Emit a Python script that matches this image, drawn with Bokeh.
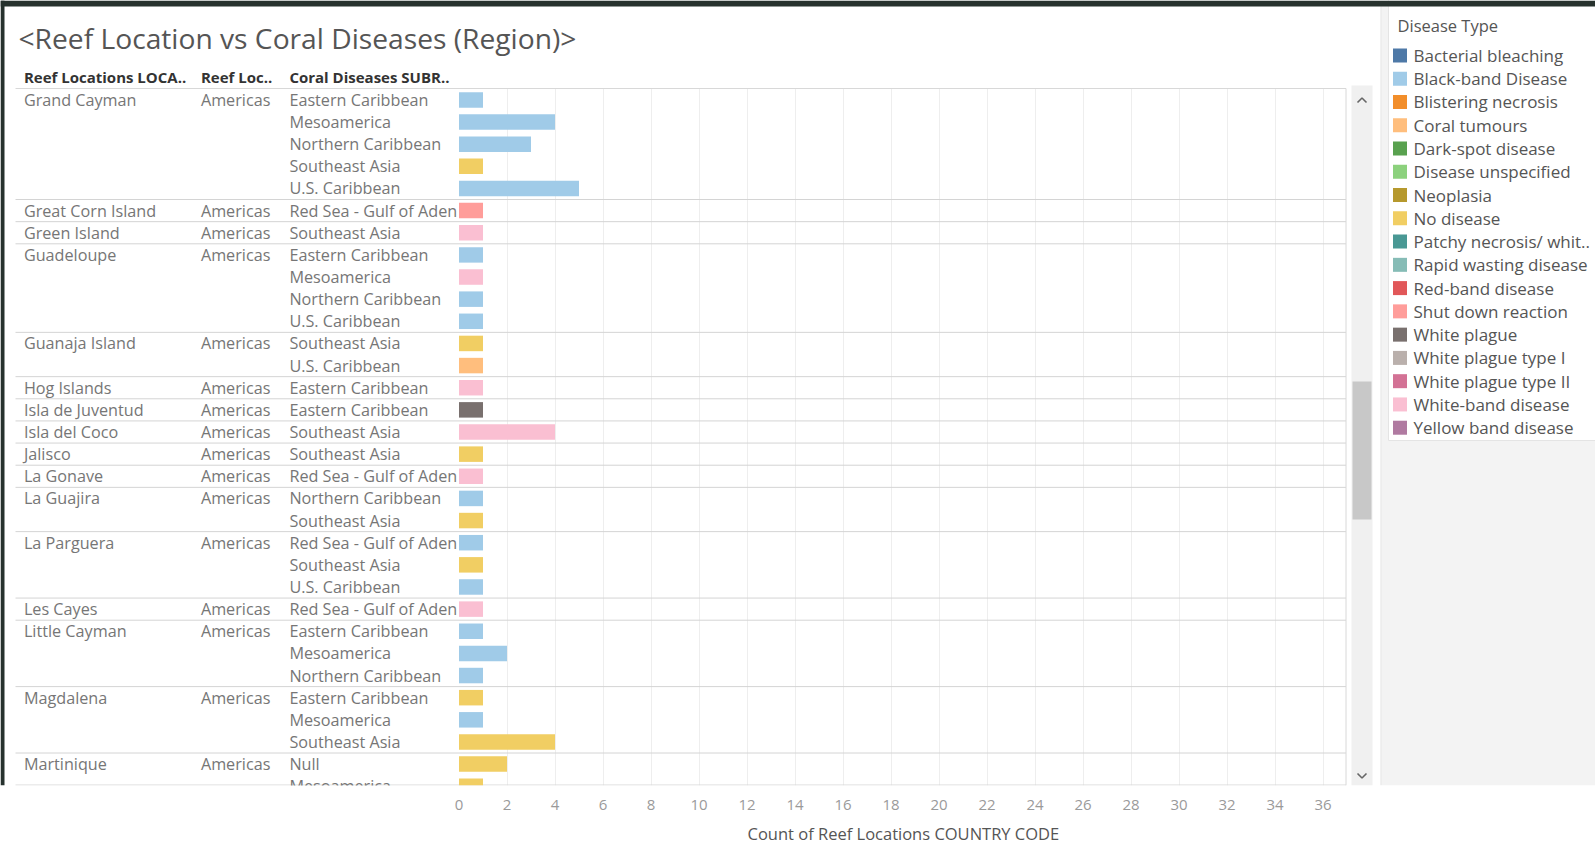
from bokeh.plotting import figure
from bokeh.models import Range1d, FixedTicker, Title, ColumnDataSource
from bokeh.transform import factor_cmap
from bokeh.core.properties import value
from bokeh.embed import file_html
from bokeh.resources import INLINE

# ---------------- data ----------------
TITLE = "<Reef Location vs Coral Diseases (Region)>"
HEADERS = ["Reef Locations LOCA..", "Reef Loc..", "Coral Diseases SUBR.."]
X_AXIS_LABEL = "Count of Reef Locations COUNTRY CODE"
LEGEND_TITLE = "Disease Type"

diseases = [
    "Bacterial bleaching", "Black-band Disease", "Blistering necrosis", "Coral tumours",
    "Dark-spot disease", "Disease unspecified", "Neoplasia", "No disease",
    "Patchy necrosis/ whit..", "Rapid wasting disease", "Red-band disease",
    "Shut down reaction", "White plague", "White plague type I", "White plague type II",
    "White-band disease", "Yellow band disease",
]
disease_colors = [
    "#4e79a7", "#a0cbe8", "#f28e2b", "#ffbe7d", "#59a14f", "#8cd17d", "#b6992d",
    "#f1ce63", "#499894", "#86bcb6", "#e15759", "#ff9d9a", "#79706e", "#bab0ac",
    "#d37295", "#fabfd2", "#b07aa1",
]

row_location = [
    "Grand Cayman", "Grand Cayman", "Grand Cayman", "Grand Cayman", "Grand Cayman",
    "Great Corn Island", "Green Island",
    "Guadeloupe", "Guadeloupe", "Guadeloupe", "Guadeloupe",
    "Guanaja Island", "Guanaja Island",
    "Hog Islands", "Isla de Juventud", "Isla del Coco", "Jalisco", "La Gonave",
    "La Guajira", "La Guajira",
    "La Parguera", "La Parguera", "La Parguera",
    "Les Cayes",
    "Little Cayman", "Little Cayman", "Little Cayman",
    "Magdalena", "Magdalena", "Magdalena",
    "Martinique", "Martinique",
]
row_region = ["Americas"] * len(row_location)
row_subregion = [
    "Eastern Caribbean", "Mesoamerica", "Northern Caribbean", "Southeast Asia", "U.S. Caribbean",
    "Red Sea - Gulf of Aden", "Southeast Asia",
    "Eastern Caribbean", "Mesoamerica", "Northern Caribbean", "U.S. Caribbean",
    "Southeast Asia", "U.S. Caribbean",
    "Eastern Caribbean", "Eastern Caribbean", "Southeast Asia", "Southeast Asia",
    "Red Sea - Gulf of Aden",
    "Northern Caribbean", "Southeast Asia",
    "Red Sea - Gulf of Aden", "Southeast Asia", "U.S. Caribbean",
    "Red Sea - Gulf of Aden",
    "Eastern Caribbean", "Mesoamerica", "Northern Caribbean",
    "Eastern Caribbean", "Mesoamerica", "Southeast Asia",
    "Null", "Mesoamerica",
]
row_disease = [
    "Black-band Disease", "Black-band Disease", "Black-band Disease", "No disease", "Black-band Disease",
    "Shut down reaction", "White-band disease",
    "Black-band Disease", "White-band disease", "Black-band Disease", "Black-band Disease",
    "No disease", "Coral tumours",
    "White-band disease", "White plague", "White-band disease", "No disease",
    "White-band disease",
    "Black-band Disease", "No disease",
    "Black-band Disease", "No disease", "Black-band Disease",
    "White-band disease",
    "Black-band Disease", "Black-band Disease", "Black-band Disease",
    "No disease", "Black-band Disease", "No disease",
    "No disease", "No disease",
]
row_count = [1, 4, 3, 1, 5, 1, 1, 1, 1, 1, 1, 1, 1, 1, 1, 4, 1, 1, 1, 1, 1, 1, 1, 1,
             1, 2, 1, 1, 1, 4, 2, 1]
x_ticks = list(range(0, 37, 2))

# ---------------- layout constants (pixels) ----------------
W, FH = 1595, 785
X0, PXU = 458.5, 24.0          # pixel of count 0, pixels per count
ROW0, PITCH = 99.4, 22.14      # pixel centre of first row, row pitch
PLOT_TOP, PLOT_RIGHT = 88, 1345.5
DARK = "#27322e"

n = len(row_location)
rows = list(range(n))
first = [i == 0 or row_location[i] != row_location[i - 1] for i in rows]

p = figure(
    frame_width=W, frame_height=FH,
    x_range=Range1d(-X0 / PXU, (W - X0) / PXU),
    y_range=Range1d(FH, 0),
    output_backend="svg", toolbar_location=None, tools="",
    y_axis_location=None, min_border=0, min_border_bottom=58,
    background_fill_color="white", border_fill_color="white",
)
p.outline_line_color = None
p.extra_x_ranges = {"px": Range1d(0, W)}
p.extra_y_ranges = {"row": Range1d((FH - ROW0) / PITCH, -ROW0 / PITCH)}

FONT = value("Open Sans")

# grid
p.ygrid.visible = False
p.xgrid.ticker = FixedTicker(ticks=x_ticks[1:])
p.xgrid.grid_line_color = "#eeeeee"

# white cover over title/header area, right panels, dark frame strips
p.quad(left=0, right=1380, top=0, bottom=PLOT_TOP, x_range_name="px",
       fill_color="white", line_color=None)
p.quad(left=1381, right=W, top=0, bottom=FH, x_range_name="px",
       fill_color="#f3f3f3", line_color=None)
p.segment(x0=1380.5, y0=0, x1=1380.5, y1=FH, x_range_name="px",
          line_color="#e2e2e2", line_width=1)
p.quad(left=1388, right=W + 2, top=-2, bottom=440, x_range_name="px",
       fill_color="white", line_color="#e4e4e4")
p.quad(left=0, right=W, top=0, bottom=6, x_range_name="px",
       fill_color=DARK, line_color=None)
p.quad(left=0, right=4, top=0, bottom=FH, x_range_name="px",
       fill_color=DARK, line_color=None)

# scrollbar
p.quad(left=1351, right=1372, top=85, bottom=785, x_range_name="px",
       fill_color="#f0f0f0", line_color=None)
p.quad(left=1352, right=1371, top=381, bottom=519, x_range_name="px",
       fill_color="#c8c8c8", line_color=None)
p.multi_line(xs=[[1357, 1361.5, 1366], [1357, 1361.5, 1366]],
             ys=[[102, 97.5, 102], [773, 777.5, 773]], x_range_name="px",
             line_color="#666666", line_width=1.6)

# title & headers
p.text(x=[18], y=[37], text=[TITLE], x_range_name="px",
       text_font=FONT, text_font_size="28.2px", text_color="#555555",
       text_baseline="middle", text_align="left")
p.text(x=[23.4, 200.4, 288.9], y=[76, 76, 76], text=HEADERS, x_range_name="px",
       text_font=FONT, text_font_size="15px", text_font_style="bold",
       text_color="#333333", text_baseline="middle", text_align="left")

# separators
sep_rows = [i - 0.5 for i in rows if first[i] and i > 0]
p.segment(x0=15, y0=sep_rows, x1=PLOT_RIGHT, y1=sep_rows,
          x_range_name="px", y_range_name="row", line_color="#d4d4d4", line_width=1)
p.segment(x0=[15, 15, PLOT_RIGHT], y0=[PLOT_TOP, FH - 0.5, PLOT_TOP],
          x1=[PLOT_RIGHT, PLOT_RIGHT, PLOT_RIGHT], y1=[PLOT_TOP, FH - 0.5, FH],
          x_range_name="px", line_color="#d8d8d8", line_width=1)

# bars
src = ColumnDataSource(dict(row=rows, count=row_count, disease=row_disease,
                            sub=row_subregion))
p.hbar(y="row", left=0, right="count", height=0.7, source=src, y_range_name="row",
       fill_color=factor_cmap("disease", disease_colors, diseases), line_color=None)

# row header text
grp = ColumnDataSource(dict(
    row=[i for i in rows if first[i]],
    loc=[row_location[i] for i in rows if first[i]],
    reg=[row_region[i] for i in rows if first[i]],
))
for xpos, col, s in [(23.4, "loc", grp), (200.4, "reg", grp), (288.9, "sub", src)]:
    p.text(x=xpos, y="row", text=col, source=s, x_range_name="px", y_range_name="row",
           text_font=FONT, text_font_size="16.2px", text_color="#767676",
           text_baseline="middle", text_align="left")

# legend
leg_y = [54.9 + 23.27 * i for i in range(len(diseases))]
p.text(x=[1397], y=[24.5], text=[LEGEND_TITLE], x_range_name="px",
       text_font=FONT, text_font_size="16.5px", text_color="#555555",
       text_baseline="middle", text_align="left")
p.scatter(x=[1399.5] * len(diseases), y=leg_y, marker="square", size=14,
          fill_color=disease_colors, line_color=None, x_range_name="px")
p.text(x=[1413] * len(diseases), y=leg_y, text=diseases, x_range_name="px",
       text_font=FONT, text_font_size="17px", text_color="#555555",
       text_baseline="middle", text_align="left")

# x axis
ax = p.xaxis[0]
ax.ticker = FixedTicker(ticks=x_ticks)
ax.axis_line_color = None
ax.major_tick_line_color = None
ax.minor_tick_line_color = None
ax.major_label_standoff = 8
ax.major_label_text_font = "Open Sans"
ax.major_label_text_font_size = "15px"
ax.major_label_text_color = "#9a9a9a"

xt = Title(text=X_AXIS_LABEL, align="left", offset=747,
           text_font="Open Sans", text_font_size="16.5px",
           text_font_style="normal", text_color="#555555")
if "standoff" in xt.properties():
    xt.standoff = 15
p.add_layout(xt, "below")

open("out.html", "w").write(file_html(p, INLINE))
